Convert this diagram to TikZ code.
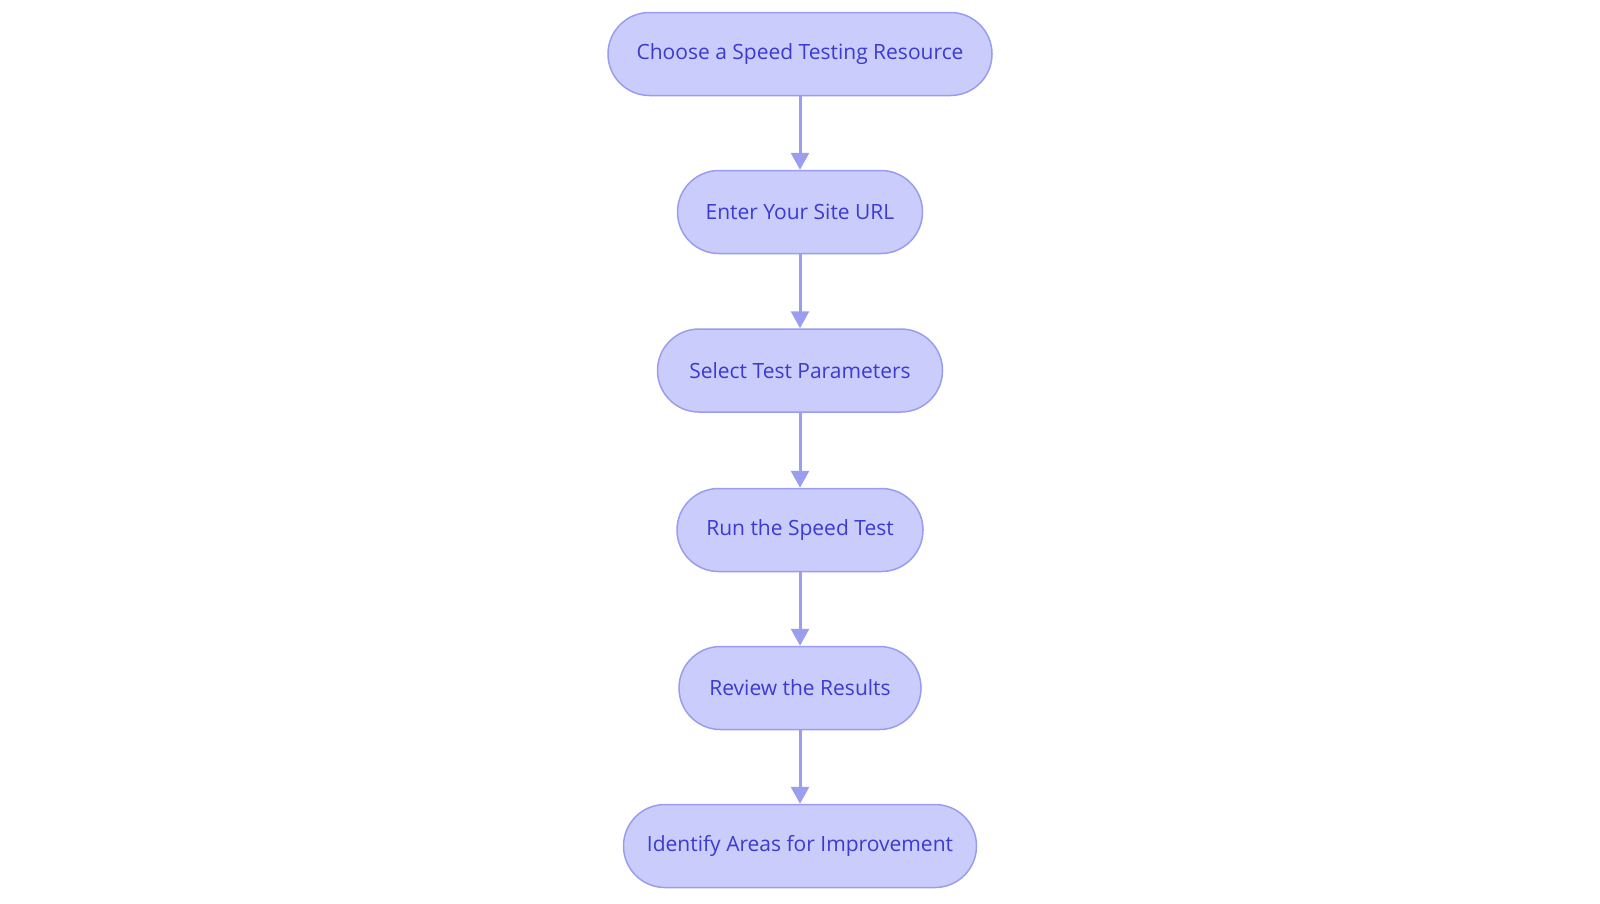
\documentclass[tikz,border=0pt]{standalone}
\usepackage{fontspec}
\setmainfont{Open Sans}
\usetikzlibrary{arrows.meta}
\definecolor{boxfill}{HTML}{CACCFB}
\definecolor{boxline}{HTML}{9A9DEE}
\definecolor{boxtext}{HTML}{3B3BCF}
\definecolor{arrowc}{HTML}{9B9EEE}
\tikzset{
  stepbox/.style={draw=boxline, fill=boxfill, line width=1.5pt, rounded corners=41.5pt,
    minimum height=83pt, inner sep=0pt, text=boxtext, font=\fontsize{21}{25}\selectfont},
  flow/.style={draw=arrowc, line width=3pt, -{Triangle[length=17pt,width=18pt]}}
}
\begin{document}
\begin{tikzpicture}[x=1pt,y=-1pt]
\useasboundingbox (0,0) rectangle (1600,903);
\node[stepbox, minimum width=384pt] (n1) at (800,54) {Choose a Speed Testing Resource};
\node[stepbox, minimum width=245pt] (n2) at (800,212) {Enter Your Site URL};
\node[stepbox, minimum width=285pt] (n3) at (800,370.5) {Select Test Parameters};
\node[stepbox, minimum width=246pt] (n4) at (800,530) {Run the Speed Test};
\node[stepbox, minimum width=242pt] (n5) at (800,688) {Review the Results};
\node[stepbox, minimum width=353pt] (n6) at (800,846) {Identify Areas for Improvement};
\draw[flow] (n1) -- (n2);
\draw[flow] (n2) -- (n3);
\draw[flow] (n3) -- (n4);
\draw[flow] (n4) -- (n5);
\draw[flow] (n5) -- (n6);
\end{tikzpicture}
\end{document}
